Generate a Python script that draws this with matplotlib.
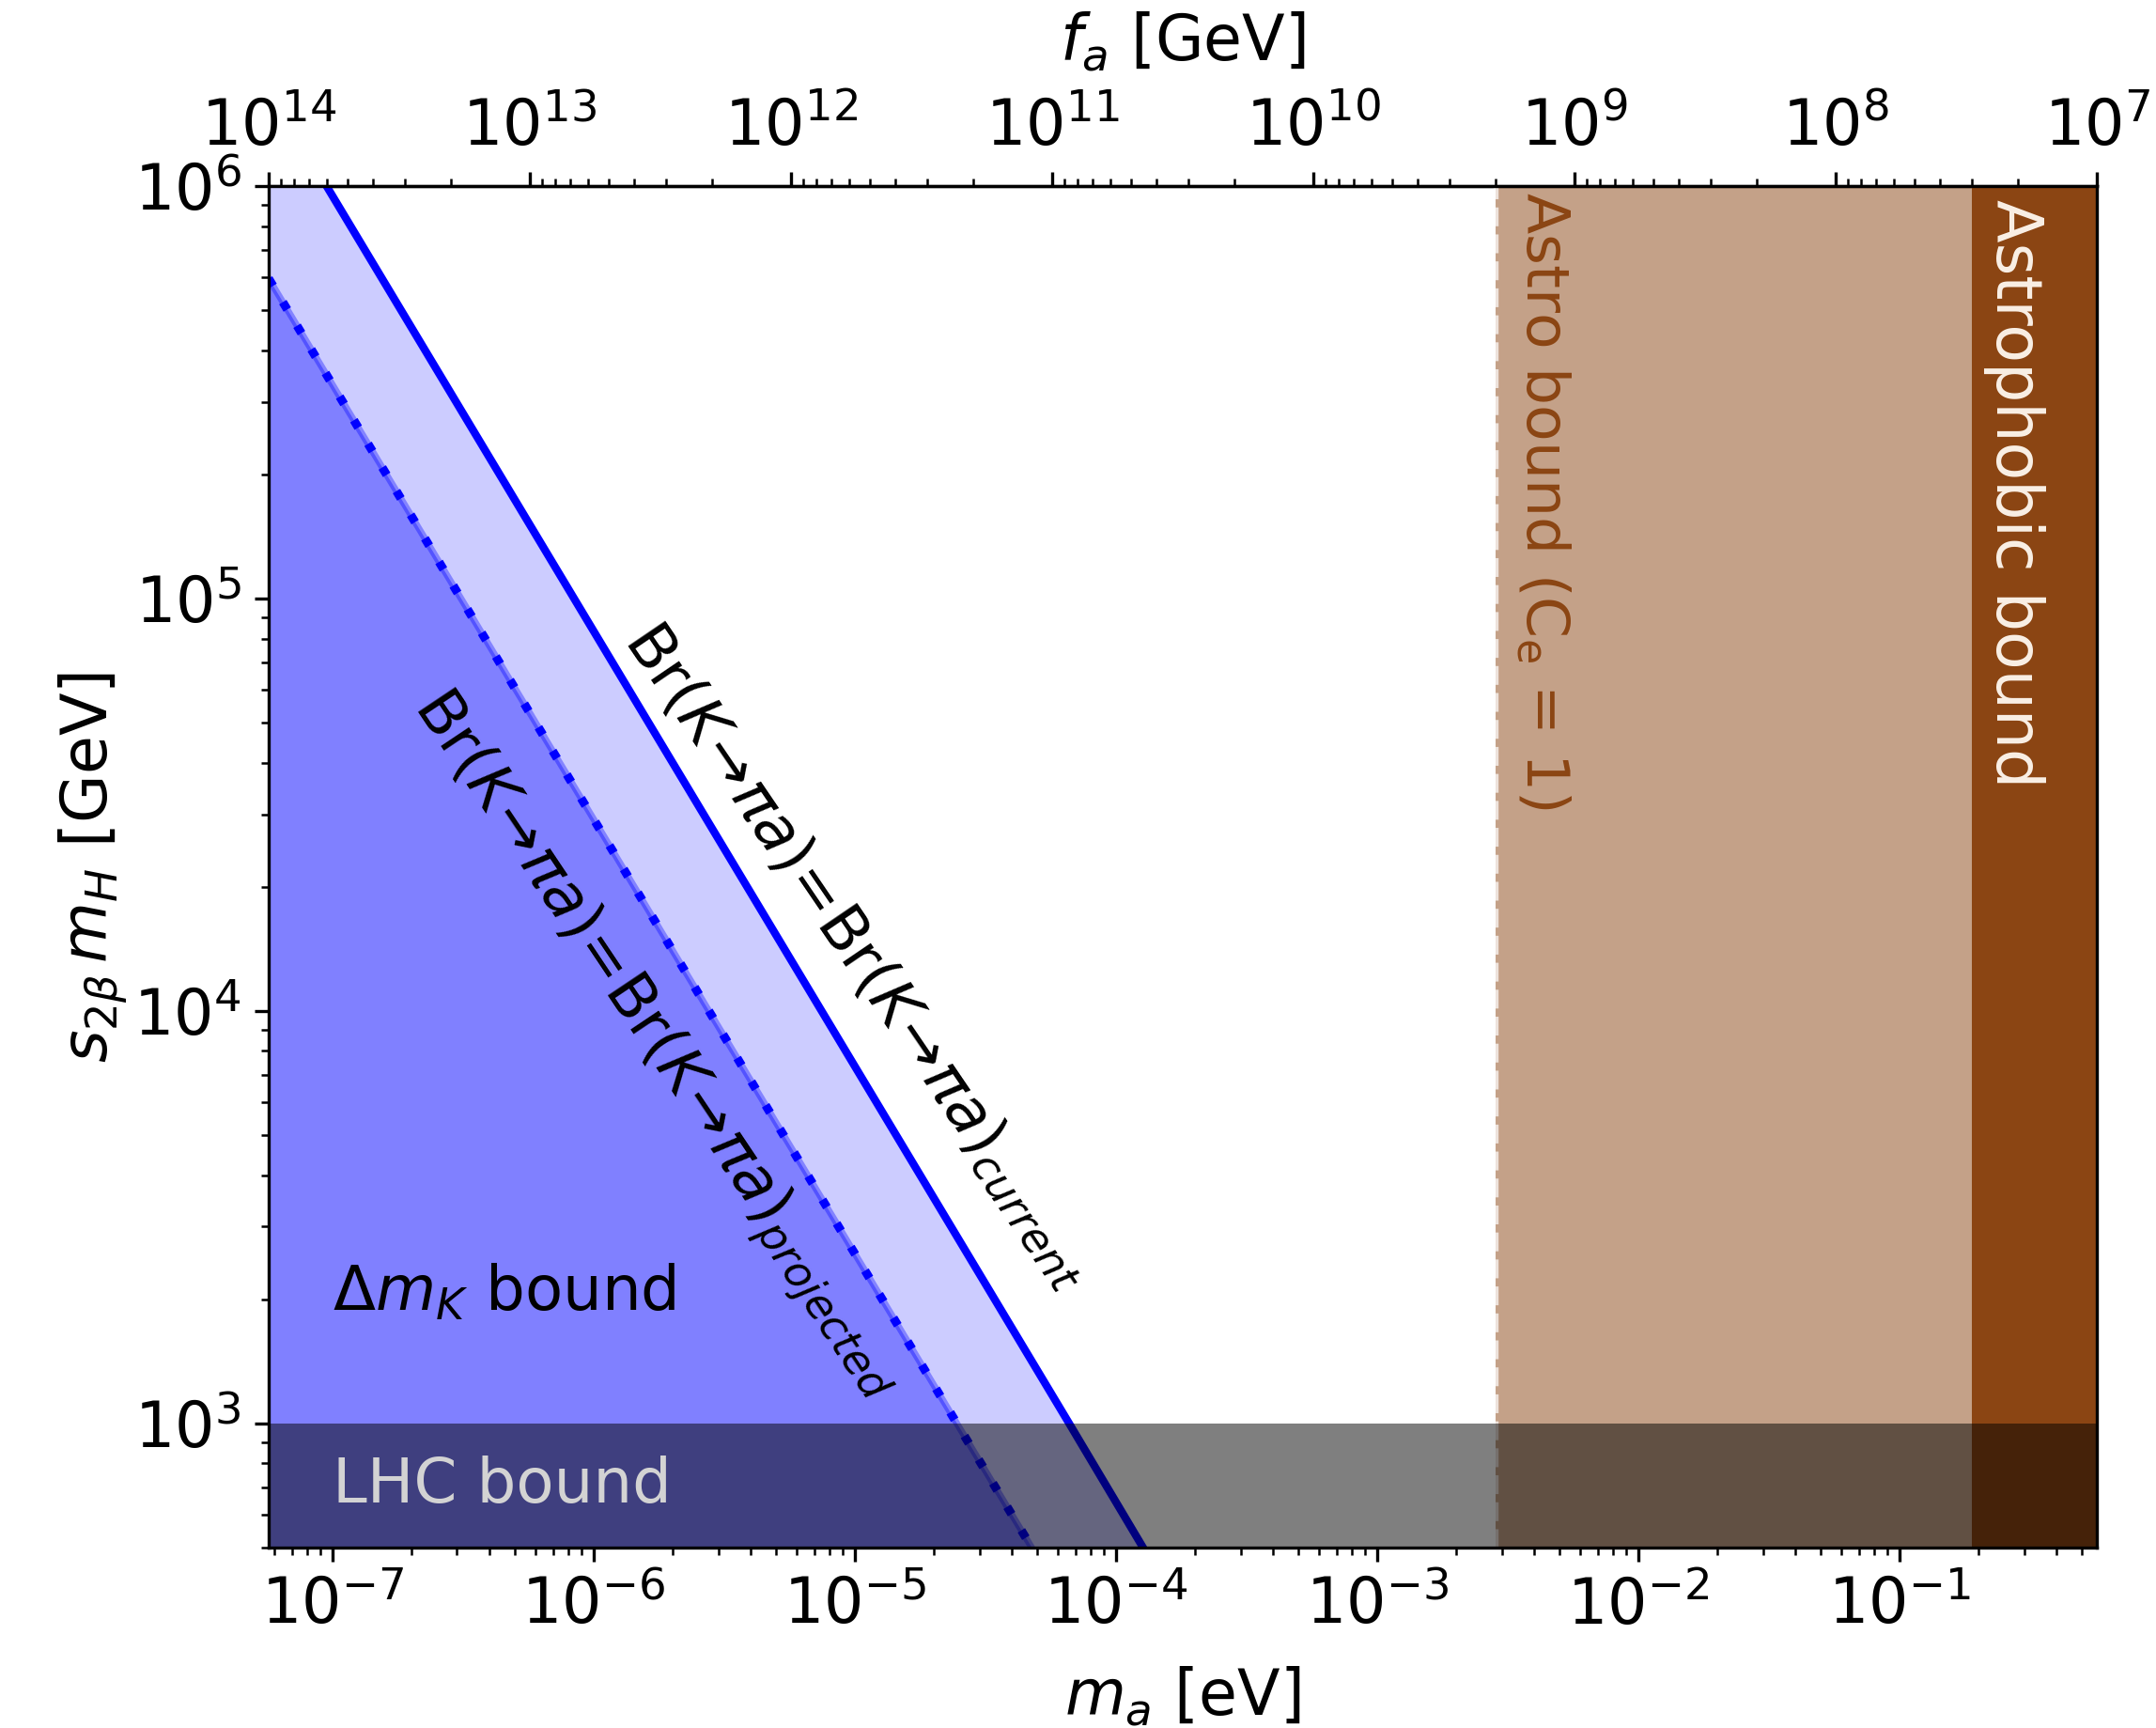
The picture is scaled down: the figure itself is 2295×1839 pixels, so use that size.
import numpy as np
import matplotlib
matplotlib.use('Agg')
import matplotlib.pyplot as plt

# ---------------- data ----------------
ma_range = [5.7e-8, 0.57]          # eV
y_range = [500, 1e6]               # GeV
ma_fa_const = 5.7e6                # m_a [eV] * f_a [GeV]

# Br(K->pi a) = current bound line (m_a, s2b mH)
current_ma = [9.5e-8, 6.62e-5, 1.27e-4]
current_y = [1e6, 1e3, 500]
# Br(K->pi a) = projected bound line
projected_ma = [5.7e-8, 2.46e-5, 4.76e-5]
projected_y = [5.97e5, 1e3, 500]

lhc_bound = 1000                   # GeV
astro_ma = 2.85e-3                 # eV  (C_e = 1)
astrophobic_ma = 0.19              # eV

fa_ticks = [1e14, 1e13, 1e12, 1e11, 1e10, 1e9, 1e8, 1e7]

# ---------------- figure ----------------
FS = 16
fig = plt.figure(figsize=(7.65, 6.13), dpi=300)
ax = fig.add_axes([0.1246, 0.1044, 0.848, 0.7879])
ax.set_xscale('log')
ax.set_yscale('log')
ax.set_xlim(ma_range)
ax.set_ylim(y_range)

# blue regions
ax.fill_betweenx(current_y, ma_range[0], current_ma, color='#ccccff', lw=0, zorder=1)
ax.fill_betweenx(projected_y, ma_range[0], projected_ma, color='#8080ff', lw=0, zorder=1.1)
ax.plot(current_ma, current_y, color='blue', lw=2.0, zorder=2)
ax.plot(projected_ma, projected_y, color='blue', lw=1.7, alpha=0.35, zorder=2)
ax.plot(projected_ma, projected_y, color='blue', lw=2.2, ls=(0, (1, 2.2)), zorder=2.1)

# astro regions
ax.axvspan(astro_ma, ma_range[1], color='saddlebrown', alpha=0.5, lw=0, zorder=1)
ax.axvline(astro_ma, color='white', ls='--', lw=1.3, alpha=0.7, zorder=1.5)
ax.axvspan(astrophobic_ma, ma_range[1], color='saddlebrown', lw=0, zorder=1.2)

# LHC
ax.axhspan(y_range[0], lhc_bound, color='black', alpha=0.5, lw=0, zorder=3)

# texts
ax.text(1.0e-7, 2075, r'$\Delta m_K$ bound', fontsize=15.8, ha='left', va='center', zorder=4)
ax.text(1.0e-7, 708, 'LHC bound', fontsize=15.8, ha='left', va='center', color='lightgray', zorder=4)
ax.text(4.3e-3, 0.97e6, r'Astro bound (C$_\mathrm{e}$ = 1)', fontsize=15.2, rotation=-90,
        ha='center', va='top', color='saddlebrown', zorder=4)
ax.text(0.275, 0.93e6, 'Astrophobic bound', fontsize=FS, rotation=-90,
        ha='center', va='top', color='linen', zorder=4)

ax.text(1.03e-5, 1.36e4, r'$\mathrm{Br}(K\!\rightarrow\!\pi a)\!=\!\mathrm{Br}(K\!\rightarrow\!\pi a)_{current}$',
        fontsize=15.7, rotation=-55.8, rotation_mode='anchor', ha='center', va='center', zorder=4)
ax.text(1.74e-6, 8280, r'$\mathrm{Br}(K\!\rightarrow\!\pi a)\!=\!\mathrm{Br}(K\!\rightarrow\!\pi a)_{projected}$',
        fontsize=15.7, rotation=-56.2, rotation_mode='anchor', ha='center', va='center', zorder=4)

# axes labels / ticks
ax.set_xlabel(r'$m_a$ [eV]', fontsize=FS, labelpad=7)
ax.set_ylabel(r'$s_{2\beta}\,m_H$ [GeV]', fontsize=FS, labelpad=1)
ax.tick_params(axis='both', which='major', labelsize=FS)
ax.tick_params(axis='both', which='both', right=False, top=False)

sec = ax.secondary_xaxis('top', functions=(lambda m: ma_fa_const / np.asarray(m, float),
                                           lambda f: ma_fa_const / np.asarray(f, float)))
sec.set_xticks(fa_ticks)
sec.tick_params(axis='x', which='major', labelsize=FS)
sec.set_xlabel(r'$f_a$ [GeV]', fontsize=FS, labelpad=9)

fig.savefig('out.png', dpi=300)
